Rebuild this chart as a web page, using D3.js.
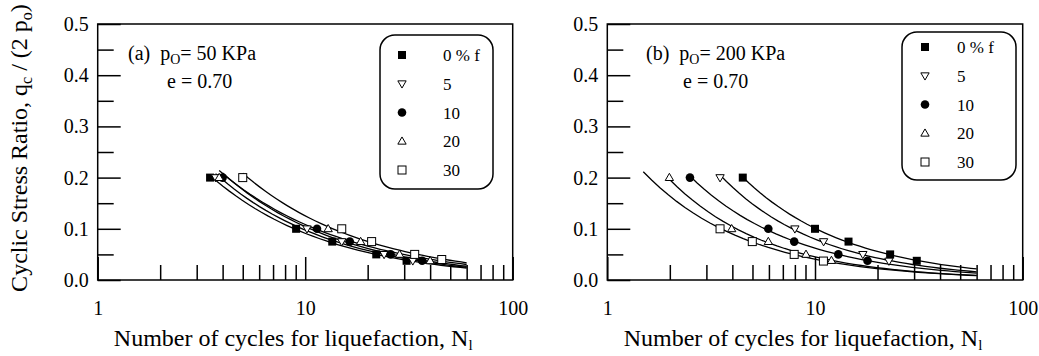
<!DOCTYPE html>
<html><head><meta charset="utf-8">
<script src="https://cdn.jsdelivr.net/npm/d3@7"></script>
<style>
html,body{margin:0;padding:0;background:#fff;}
svg text{font-family:"Liberation Serif","Times New Roman",serif;fill:#000;}
</style></head>
<body><svg id="c" width="1039" height="356"></svg>
<script>
// ---- data ----
const fineLabels = ["0 % f", "5", "10", "20", "30"];
const xTickLabels = [1, 10, 100];
const yTickValues = [0, 0.1, 0.2, 0.3, 0.4, 0.5];

// panel (a) p0 = 50 kPa
const a_N0  = [3.48, 9.04, 13.5, 22.0, 30.8];
const a_C0  = [0.2, 0.1, 0.075, 0.05, 0.0375];
const a_N5  = [3.7, 10.2, 15.0, 24.0, 33.0];
const a_C5  = [0.2, 0.1, 0.075, 0.05, 0.0375];
const a_N10 = [4.0, 11.4, 16.4, 25.8, 36.6];
const a_C10 = [0.2, 0.1, 0.075, 0.05, 0.0375];
const a_N20 = [3.85, 12.9, 18.5, 28.5, 40.0];
const a_C20 = [0.2, 0.1, 0.075, 0.05, 0.0375];
const a_N30 = [5.0, 15.0, 20.9, 33.7, 45.5];
const a_C30 = [0.2, 0.1, 0.075, 0.05, 0.04];
const a_curveStart = [3.48, 3.7, 4.0, 3.85, 5.0];

// panel (b) p0 = 200 kPa
const b_N0  = [4.49, 10.0, 14.5, 23.0, 30.9];
const b_C0  = [0.2, 0.1, 0.075, 0.05, 0.0375];
const b_N5  = [3.49, 8.0, 11.0, 17.0, 22.7];
const b_C5  = [0.2, 0.1, 0.075, 0.05, 0.037];
const b_N10 = [2.5, 5.96, 7.94, 12.95, 17.9];
const b_C10 = [0.2, 0.1, 0.075, 0.05, 0.0375];
const b_N20 = [1.99, 3.97, 5.96, 9.05, 12.0];
const b_C20 = [0.2, 0.1, 0.075, 0.05, 0.038];
const b_N30 = [3.49, 4.99, 7.94, 10.98];
const b_C30 = [0.1, 0.075, 0.05, 0.037];
const b_curveStart = [4.49, 3.49, 2.5, 1.99, 1.49];
const curveEnd = 60;

const symbols = ["fsquare", "dtri", "fcircle", "utri", "osquare"];

const panels = [
  {x0: 97.7, x1: 512.7, tag: "(a)", p: "50 KPa",
   series: [[a_N0,a_C0],[a_N5,a_C5],[a_N10,a_C10],[a_N20,a_C20],[a_N30,a_C30]],
   starts: a_curveStart, ylabel: true,
   legend: {x: 380, y: 35, w: 113, h: 154, mx: 402, lx: 443, ry: 55},
   ann: {x: 128, ex: 167}},
  {x0: 607.3, x1: 1022.7, tag: "(b)", p: "200 KPa",
   series: [[b_N0,b_C0],[b_N5,b_C5],[b_N10,b_C10],[b_N20,b_C20],[b_N30,b_C30]],
   starts: b_curveStart, ylabel: false,
   legend: {x: 902, y: 32, w: 114, h: 148, mx: 925, lx: 957, ry: 47},
   ann: {x: 646, ex: 683}}
];

const svg = d3.select("#c");
const yTop = 24, yBot = 280;
const SERIF = "Liberation Serif, Times New Roman, serif";

function drawSymbol(g, type, x, y) {
  if (type === "fsquare") g.append("rect").attr("x", x-4).attr("y", y-4).attr("width", 8).attr("height", 8).attr("fill", "#000");
  else if (type === "osquare") g.append("rect").attr("x", x-4).attr("y", y-4).attr("width", 8).attr("height", 8).attr("fill", "#fff").attr("stroke", "#000").attr("stroke-width", 1);
  else if (type === "fcircle") g.append("circle").attr("cx", x).attr("cy", y).attr("r", 4.3).attr("fill", "#000");
  else if (type === "utri") g.append("path").attr("d", d3.symbol(d3.symbolTriangle, 30)()).attr("transform", `translate(${x},${y+0.5})`).attr("fill", "#fff").attr("stroke", "#000").attr("stroke-width", 1);
  else if (type === "dtri") g.append("path").attr("d", d3.symbol(d3.symbolTriangle, 30)()).attr("transform", `translate(${x},${y-0.5}) rotate(180)`).attr("fill", "#fff").attr("stroke", "#000").attr("stroke-width", 1);
}

function powerFit(N, C) {
  const lx = N.map(Math.log), ly = C.map(Math.log);
  const mx = d3.mean(lx), my = d3.mean(ly);
  let sxy = 0, sxx = 0;
  for (let i = 0; i < lx.length; i++) { sxy += (lx[i]-mx)*(ly[i]-my); sxx += (lx[i]-mx)**2; }
  const b = sxy / sxx, a = my - b*mx;
  return n => Math.exp(a + b*Math.log(n));
}

panels.forEach(P => {
  const x = d3.scaleLog().domain([1, 100]).range([P.x0, P.x1]);
  const y = d3.scaleLinear().domain([0, 0.5]).range([yBot, yTop]);
  const g = svg.append("g");

  // y axis major
  const ya = g.append("g").attr("transform", `translate(${P.x0},0)`)
    .call(d3.axisLeft(y).tickValues(yTickValues).tickSize(-23).tickPadding(9).tickFormat(d3.format(".1f")));
  ya.attr("font-family", SERIF);
  ya.select(".domain").remove();
  ya.selectAll("line").attr("stroke-width", 1.5);
  ya.selectAll("text").attr("font-size", 20).attr("font-family", SERIF);
  // y axis minor
  const ym = g.append("g").attr("transform", `translate(${P.x0},0)`)
    .call(d3.axisLeft(y).tickValues([0.05, 0.15, 0.25, 0.35, 0.45]).tickSize(-16).tickFormat(""));
  ym.select(".domain").remove();
  ym.selectAll("line").attr("stroke-width", 1.5);

  // x axis major
  const xa = g.append("g").attr("transform", `translate(0,${yBot})`)
    .call(d3.axisBottom(x).tickValues(xTickLabels).tickSize(-23).tickPadding(21).tickFormat(d3.format("d")));
  xa.attr("font-family", SERIF);
  xa.select(".domain").remove();
  xa.selectAll("line").attr("stroke-width", 1.5);
  xa.selectAll("text").attr("font-size", 20).attr("font-family", SERIF);
  const minorX = [2,3,4,5,6,7,8,9,20,30,40,50,60,70,80,90];
  const xm = g.append("g").attr("transform", `translate(0,${yBot})`)
    .call(d3.axisBottom(x).tickValues(minorX).tickSize(-15).tickFormat(""));
  xm.select(".domain").remove();
  xm.selectAll("line").attr("stroke-width", 1.5);

  // frame
  g.append("rect").attr("x", P.x0).attr("y", yTop).attr("width", P.x1-P.x0).attr("height", yBot-yTop)
    .attr("fill", "none").attr("stroke", "#000").attr("stroke-width", 1.5);

  // curves
  const line = d3.line().x(d => x(d[0])).y(d => y(d[1]));
  P.series.forEach((s, i) => {
    const f = powerFit(s[0], s[1]);
    const lo = Math.log(P.starts[i]), hi = Math.log(curveEnd);
    const pts = d3.range(0, 41).map(k => { const n = Math.exp(lo + (hi-lo)*k/40); return [n, f(n)]; });
    g.append("path").attr("d", line(pts)).attr("fill", "none").attr("stroke", "#000").attr("stroke-width", 1.3);
  });
  // markers
  P.series.forEach((s, i) => {
    s[0].forEach((n, k) => drawSymbol(g, symbols[i], x(n), y(s[1][k])));
  });

  // legend
  const L = P.legend;
  g.append("rect").attr("x", L.x).attr("y", L.y).attr("width", L.w).attr("height", L.h)
    .attr("rx", 15).attr("ry", 15).attr("fill", "#fff").attr("stroke", "#000").attr("stroke-width", 1.5);
  fineLabels.forEach((lab, i) => {
    const ry = L.ry + i*28.75;
    drawSymbol(g, symbols[i], L.mx, ry);
    g.append("text").attr("x", L.lx).attr("y", ry + 6).attr("font-size", 17).attr("font-family", SERIF).text(lab);
  });

  // annotation
  const t = g.append("text").attr("x", P.ann.x).attr("y", 60).attr("font-size", 20).attr("font-family", SERIF);
  t.append("tspan").text(P.tag + "\u00a0\u00a0p");
  t.append("tspan").attr("font-size", 14).attr("dy", 4).text("O");
  t.append("tspan").attr("dy", -4).text("= " + P.p);
  g.append("text").attr("x", P.ann.ex).attr("y", 88).attr("font-size", 20).attr("font-family", SERIF).text("e = 0.70");

  // x label
  const xl = g.append("text").attr("x", (P.x0+P.x1)/2 - 12).attr("y", 346).attr("text-anchor", "middle")
    .attr("font-size", 24).attr("font-family", SERIF);
  xl.append("tspan").text("Number of cycles for liquefaction, N");
  xl.append("tspan").attr("font-size", 15).attr("dy", 4).text("l");

  if (P.ylabel) {
    const yl = g.append("text").attr("transform", `translate(27,${(yTop+yBot)/2 - 4}) rotate(-90)`)
      .attr("text-anchor", "middle").attr("font-size", 24).attr("font-family", SERIF);
    yl.append("tspan").text("Cyclic Stress Ratio, q");
    yl.append("tspan").attr("font-size", 16).attr("dy", 5).text("c");
    yl.append("tspan").attr("dy", -5).text(" / (2 p");
    yl.append("tspan").attr("font-size", 16).attr("dy", 5).text("o");
    yl.append("tspan").attr("dy", -5).text(")");
  }
});
</script>
</body></html>
